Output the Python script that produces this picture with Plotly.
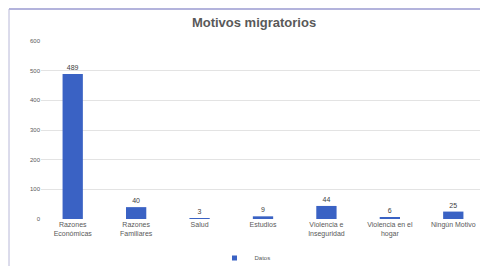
import plotly.graph_objects as go

categories = ["Razones<br>Económicas", "Razones<br>Familiares", "Salud", "Estudios",
              "Violencia e<br>Inseguridad", "Violencia en el<br>hogar", "Ningún Motivo"]
values = [489, 40, 3, 9, 44, 6, 25]
y_ticks = [0, 100, 200, 300, 400, 500, 600]
series_name = "Datos"
bar_color = "#3A62C4"

# page has an 8px body margin; figure fills the rest of the 488x269 window
OFF = 8
W, H = 488 - OFF, 269 - OFF
ml, mr, mt, mb = 33, 3, 33, 50
pw, ph = W - ml - mr, H - mt - mb

def px_x(x):
    return (x - ml) / pw

def px_y(y):
    return (H - mb - y) / ph

fig = go.Figure()
fig.add_trace(go.Bar(
    x=categories, y=values, name=series_name,
    marker=dict(color=bar_color, line=dict(width=0)),
    text=[str(v) for v in values], textposition="outside",
    textfont=dict(size=7, color="#404040"),
    cliponaxis=False, showlegend=False,
))
# legend entry with a small square swatch
fig.add_trace(go.Scatter(
    x=[None], y=[None], mode="markers", name=series_name,
    marker=dict(symbol="square", size=5, color=bar_color), showlegend=True,
))

fig.update_layout(
    width=W, height=H,
    margin=dict(l=ml, r=mr, t=mt, b=mb, autoexpand=False),
    paper_bgcolor="white", plot_bgcolor="white",
    font=dict(family="Liberation Sans, Arial, sans-serif", size=7, color="#595959"),
    title=dict(text="<b>Motivos migratorios</b>", x=246 / W, xanchor="center",
               y=1 - 14 / H, yanchor="middle",
               font=dict(size=13, color="#595959")),
    bargap=0.68,
    xaxis=dict(showgrid=False, showline=False, ticks="", tickfont=dict(size=7, color="#595959"),
               tickangle=0),
    yaxis=dict(range=[0, 600], tickvals=y_ticks, showgrid=True, gridcolor="#E3E3E3",
               gridwidth=1, zeroline=False, showline=False, ticks="",
               tickfont=dict(size=6, color="#595959")),
    legend=dict(orientation="h", x=237 / W, xanchor="center", xref="container",
                y=(H - 250) / H, yanchor="middle", yref="container",
                font=dict(size=6, color="#595959"), itemwidth=30),
    shapes=[
        dict(type="line", xref="paper", yref="paper", x0=px_x(1), x1=px_x(W),
             y0=px_y(1), y1=px_y(1), line=dict(color="#9A9AD0", width=1.5)),
        dict(type="line", xref="paper", yref="paper", x0=px_x(1), x1=px_x(1),
             y0=px_y(1), y1=px_y(H - 3), line=dict(color="#B8B8D8", width=1)),
    ],
)

fig.write_html("out.html")
